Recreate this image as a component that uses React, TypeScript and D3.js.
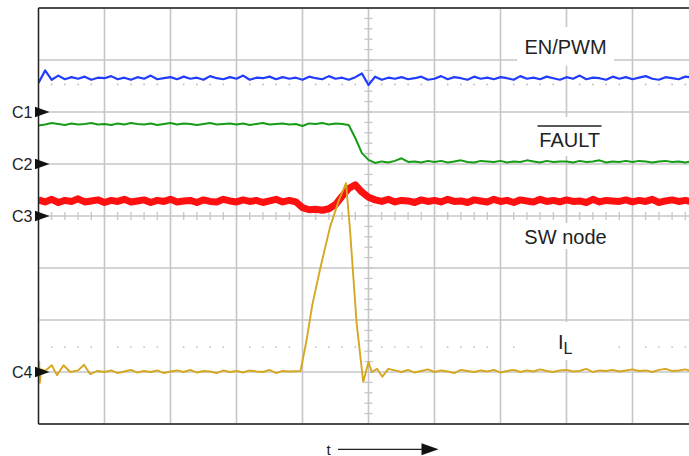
import React from 'react';
import * as d3 from 'd3';

const W = 689;
const H = 456;

// time axis: 10 divisions, vertical: 8 divisions
const X_DIVS = d3.range(0, 11);
const Y_DIVS = d3.range(0, 9);
const SAMPLE_DT = 0.1;

const CHANNEL_NAMES = ['C1', 'C2', 'C3', 'C4'];
const CHANNEL_LEVELS = [6, 5, 4, 1];
const CHANNEL_COLORS = ['#1f3cff', '#169c16', '#ff1010', '#d6a722'];
const CHANNEL_WIDTHS = [2.2, 2.0, 7, 1.9];

// EN/PWM (C1), sampled every 0.1 div, in div above marker
const BLUE = [
  0.56, 0.8, 0.62, 0.7, 0.63, 0.67, 0.64, 0.68, 0.62, 0.66,
  0.65, 0.69, 0.63, 0.66, 0.62, 0.67, 0.64, 0.7, 0.63, 0.65,
  0.67, 0.63, 0.68, 0.64, 0.66, 0.62, 0.69, 0.65, 0.63, 0.67,
  0.64, 0.7, 0.62, 0.66, 0.65, 0.68, 0.63, 0.67, 0.64, 0.66,
  0.62, 0.68, 0.65, 0.63, 0.69, 0.64, 0.66, 0.62, 0.67, 0.74,
  0.52, 0.68, 0.62, 0.66, 0.64, 0.67, 0.63, 0.65, 0.68, 0.62,
  0.64, 0.69, 0.63, 0.67, 0.65, 0.62, 0.68, 0.64, 0.66, 0.63,
  0.67, 0.65, 0.62, 0.69, 0.64, 0.66, 0.63, 0.68, 0.65, 0.62,
  0.67, 0.64, 0.7, 0.63, 0.66, 0.65, 0.62, 0.68, 0.64, 0.67,
  0.63, 0.66, 0.69, 0.64, 0.62, 0.67, 0.65, 0.63, 0.68, 0.66,
];

// FAULT (C2)
const GREEN = [
  0.74, 0.76, 0.79, 0.77, 0.75, 0.78, 0.76, 0.77, 0.79, 0.76,
  0.77, 0.75, 0.78, 0.76, 0.79, 0.77, 0.76, 0.78, 0.75, 0.77,
  0.79, 0.76, 0.78, 0.77, 0.75, 0.77, 0.79, 0.76, 0.77, 0.78,
  0.76, 0.78, 0.75, 0.77, 0.79, 0.76, 0.77, 0.78, 0.76, 0.77,
  0.73, 0.78, 0.77, 0.79, 0.76, 0.78, 0.77, 0.75, 0.5, 0.21,
  0.08, 0.02, 0.05, 0.03, 0.06, 0.11, 0.04, 0.05, 0.03, 0.06,
  0.04, 0.06, 0.03, 0.05, 0.07, 0.04, 0.03, 0.06, 0.05, 0.04,
  0.06, 0.03, 0.05, 0.04, 0.07, 0.05, 0.03, 0.06, 0.04, 0.05,
  0.05, 0.03, 0.06, 0.04, 0.05, 0.07, 0.03, 0.05, 0.04, 0.06,
  0.04, 0.06, 0.05, 0.03, 0.05, 0.06, 0.04, 0.05, 0.03, 0.05,
];

// SW node (C3)
const RED = [
  0.31, 0.27, 0.32, 0.26, 0.3, 0.28, 0.33, 0.27, 0.29, 0.31,
  0.26, 0.3, 0.28, 0.32, 0.27, 0.29, 0.31, 0.26, 0.3, 0.28,
  0.32, 0.27, 0.29, 0.3, 0.26, 0.31, 0.28, 0.27, 0.32, 0.29,
  0.27, 0.31, 0.28, 0.3, 0.26, 0.29, 0.32, 0.27, 0.3, 0.27,
  0.16, 0.12, 0.13, 0.11, 0.14, 0.22, 0.38, 0.53, 0.6, 0.46,
  0.36, 0.31, 0.28, 0.32, 0.27, 0.3, 0.29, 0.26, 0.31, 0.28,
  0.3, 0.27, 0.32, 0.28, 0.29, 0.26, 0.31, 0.29, 0.27, 0.32,
  0.28, 0.3, 0.26, 0.31, 0.29, 0.27, 0.32, 0.28, 0.3, 0.27,
  0.31, 0.28, 0.29, 0.26, 0.32, 0.27, 0.3, 0.29, 0.28, 0.31,
  0.27, 0.3, 0.28, 0.32, 0.26, 0.29, 0.31, 0.28, 0.3, 0.27,
];

// IL (C4) baseline samples (null where detail points take over)
const YELLOW = [
  null, null, null, null, null, null, null, null, null, 0.02,
  0.0, 0.03, -0.02, 0.01, 0.04, -0.01, 0.02, 0.0, 0.03, -0.02,
  0.01, 0.03, 0.0, 0.04, -0.01, 0.02, 0.01, -0.02, 0.03, 0.0,
  0.02, -0.01, 0.03, 0.01, 0.0, 0.04, -0.02, 0.02, 0.01, null,
  null, null, null, null, null, null, null, null, null, null,
  null, null, null, null, 0.03, 0.0, 0.04, -0.01, 0.02, 0.05,
  0.0, 0.03, 0.01, -0.02, 0.04, 0.02, 0.0, 0.03, 0.01, 0.04,
  -0.01, 0.02, 0.04, 0.0, 0.03, 0.01, 0.05, 0.02, 0.0, 0.03,
  0.04, 0.01, 0.02, 0.06, 0.0, 0.03, 0.02, 0.04, 0.01, 0.03,
  0.05, 0.02, 0.03, 0.0, 0.04, 0.06, 0.02, 0.03, 0.05, 0.01,
];
const YELLOW_DETAIL_T = [
  0.0, 0.01, 0.02, 0.04, 0.1, 0.2, 0.28, 0.38, 0.48, 0.6, 0.69, 0.78,
  3.97, 4.06, 4.15, 4.27, 4.42, 4.55, 4.66, 4.72, 4.82, 4.92, 5.0, 5.05, 5.13, 5.21, 5.3,
];
const YELLOW_DETAIL_V = [
  0.0, 0.2, -0.21, 0.05, 0.02, 0.13, -0.06, 0.13, 0.0, 0.03, 0.14, -0.04,
  0.02, 0.6, 1.3, 2.0, 2.8, 3.3, 3.63, 2.73, 0.94, -0.19, 0.19, 0.0, 0.06, -0.09, 0.06,
];

const SERIES = [BLUE, GREEN, RED, YELLOW];

const FONT = "'Liberation Sans', Arial, Helvetica, sans-serif";

export default function App() {
  const x = d3.scaleLinear().domain([0, 10]).range([38.5, 698.5]);
  const y = d3.scaleLinear().domain([0, 8]).range([424, 8]);

  const traces = SERIES.map((vals, ci) => {
    const pts: [number, number][] = [];
    vals.forEach((v, i) => {
      if (v !== null && v !== undefined) pts.push([i * SAMPLE_DT, v as number]);
    });
    if (ci === 3) {
      YELLOW_DETAIL_T.forEach((t, i) => pts.push([t, YELLOW_DETAIL_V[i]]));
    }
    pts.sort((a, b) => a[0] - b[0]);
    const lvl = CHANNEL_LEVELS[ci];
    const line = d3
      .line<[number, number]>()
      .x((d) => x(d[0]))
      .y((d) => y(lvl + d[1]));
    return line(pts) || '';
  });

  const cx = x(5);
  const cy = y(4);
  const vTicks = d3.range(0, 8.001, 0.2);
  const hTicks = d3.range(0, 10.001, 0.2);
  const dotTs = d3.range(0, 10, 0.2).filter((t) => Math.abs(t - Math.round(t)) > 0.05);
  const dotRows = [y(6.53), y(1.48)];

  const grid = '#c6c6c6';
  const boxes = [
    { x0: 517, x1: 614, y0: 27, y1: 65.5 },
    { x0: 530, x1: 610, y0: 117, y1: 156 },
    { x0: 517, x1: 614, y0: 223, y1: 249 },
    { x0: 518, x1: 613, y0: 322, y1: 360 },
  ];

  return (
    <svg
      width={W}
      height={H}
      style={{ position: 'absolute', left: 0, top: 0, background: '#fff' }}
      fontFamily={FONT}
    >
      <defs>
        <clipPath id="plot">
          <rect x={x(0)} y={y(8)} width={W - x(0)} height={y(0) - y(8)} />
        </clipPath>
      </defs>
      <rect x={0} y={0} width={W} height={H} fill="#fff" />
      {/* grid */}
      {X_DIVS.map((d) => (
        <line key={'vx' + d} x1={x(d)} x2={x(d)} y1={y(8)} y2={y(0)} stroke={grid} strokeWidth={1.6} />
      ))}
      {Y_DIVS.map((d) => (
        <line key={'hy' + d} x1={x(0)} x2={W} y1={y(d)} y2={y(d)} stroke={grid} strokeWidth={1.6} />
      ))}
      {/* minor ticks on center axes */}
      {vTicks.map((t, i) => (
        <line key={'vt' + i} x1={cx - 4} x2={cx + 4} y1={y(t)} y2={y(t)} stroke={grid} strokeWidth={1.3} />
      ))}
      {hTicks.map((t, i) => (
        <line key={'ht' + i} x1={x(t)} x2={x(t)} y1={cy - 4} y2={cy + 4} stroke={grid} strokeWidth={1.3} />
      ))}
      {/* dotted reference rows */}
      {dotRows.map((ry, ri) =>
        dotTs.map((t, i) => <circle key={'d' + ri + '_' + i} cx={x(t)} cy={ry} r={0.9} fill="#bdbdbd" />)
      )}
      {/* label backgrounds */}
      {boxes.map((b, i) => (
        <rect key={'b' + i} x={b.x0} y={b.y0} width={b.x1 - b.x0} height={b.y1 - b.y0} fill="#fff" />
      ))}
      {/* labels */}
      <text x={565.5} y={54} fontSize={20} textAnchor="middle" fill="#222">EN/PWM</text>
      <text x={569.7} y={146.5} fontSize={20} textAnchor="middle" fill="#222">FAULT</text>
      <line x1={537.5} x2={601.5} y1={126} y2={126} stroke="#222" strokeWidth={1.5} />
      <text x={565.5} y={243.5} fontSize={20} textAnchor="middle" fill="#222">SW node</text>
      <text x={558} y={348.5} fontSize={20} fill="#222">I</text>
      <text x={563.5} y={353.5} fontSize={16} fill="#222">L</text>
      {/* traces */}
      <g clipPath="url(#plot)">
        {traces.map((p, i) => (
          <path
            key={'tr' + i}
            d={p}
            fill="none"
            stroke={CHANNEL_COLORS[i]}
            strokeWidth={CHANNEL_WIDTHS[i]}
            strokeLinejoin="round"
          />
        ))}
      </g>
      {/* frame */}
      <line x1={x(0)} x2={W} y1={y(8)} y2={y(8)} stroke="#222" strokeWidth={1.4} />
      <line x1={x(0)} x2={W} y1={y(0)} y2={y(0)} stroke="#222" strokeWidth={1.4} />
      <line x1={x(0)} x2={x(0)} y1={y(8)} y2={y(0)} stroke="#222" strokeWidth={1.4} />
      {/* channel markers */}
      {CHANNEL_NAMES.map((n, i) => {
        const my = y(CHANNEL_LEVELS[i]);
        return (
          <g key={n}>
            <text x={32.5} y={my + 6} fontSize={16} textAnchor="end" fill="#222">{n}</text>
            <polygon points={`35,${my - 5.3} 49.5,${my} 35,${my + 5.3}`} fill="#111" />
          </g>
        );
      })}
      {/* time arrow */}
      <text x={326.5} y={454.5} fontSize={15} fill="#222">t</text>
      <line x1={338} x2={424} y1={449.3} y2={449.3} stroke="#222" strokeWidth={1.3} />
      <polygon points="421.5,443.3 438.5,449.3 421.5,455.3" fill="#111" />
    </svg>
  );
}
